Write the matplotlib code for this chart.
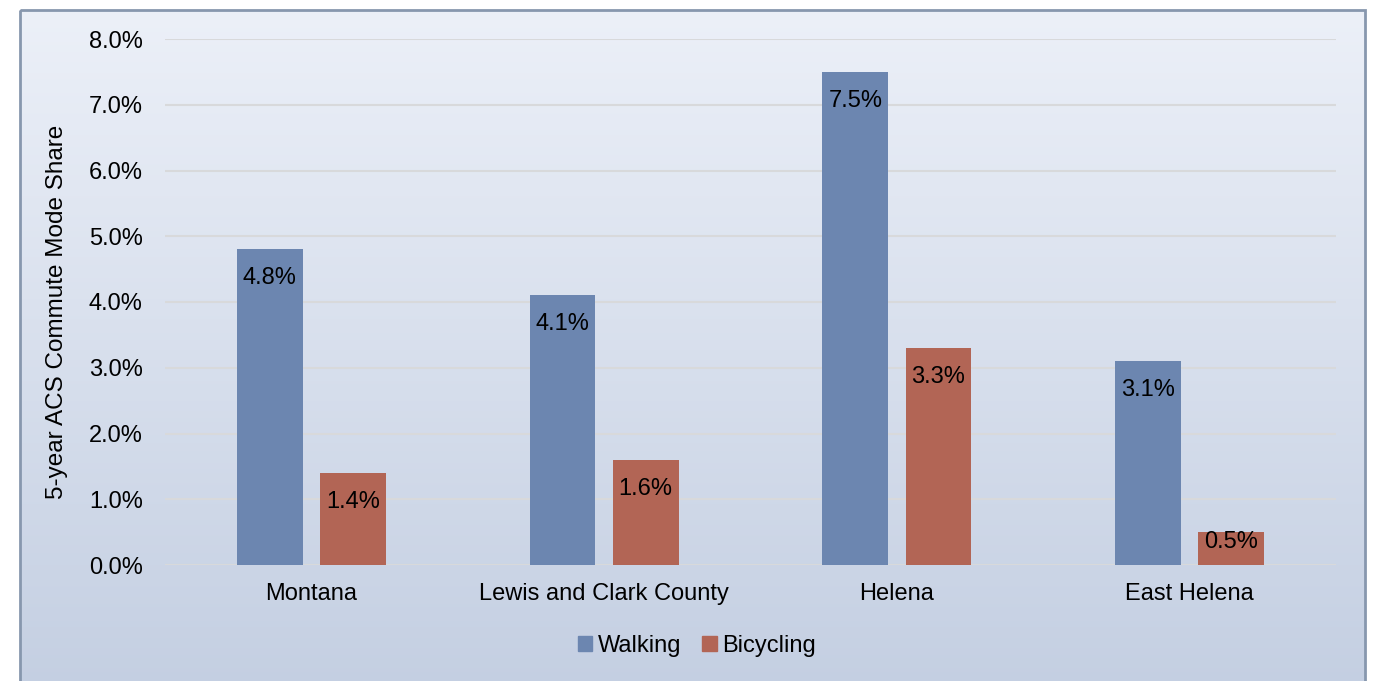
#!/usr/bin/env python3
import numpy as np
import matplotlib.pyplot as plt
from matplotlib.patches import Rectangle, Patch
from matplotlib.ticker import PercentFormatter

plt.rcParams['font.family'] = ['Liberation Sans', 'DejaVu Sans']

# Chart data
places = ["Montana", "Lewis and Clark County", "Helena", "East Helena"]
walking = [4.8, 4.1, 7.5, 3.1]
bicycling = [1.4, 1.6, 3.3, 0.5]
series_names = ["Walking", "Bicycling"]
y_ticks = [0, 1, 2, 3, 4, 5, 6, 7, 8]

walk_color = '#6C86B0'
bike_color = '#B26555'
fs = 17

fig = plt.figure(figsize=(13.76, 6.81), dpi=100)

# Background gradient panel with frame
bg = fig.add_axes([0, 0, 1, 1], zorder=0)
bg.set_xlim(0, 1376)
bg.set_ylim(681, 0)
bg.axis('off')
grad = np.linspace(0, 1, 256).reshape(-1, 1)
top = np.array([0xEC, 0xF0, 0xF8]) / 255
bot = np.array([0xC4, 0xCF, 0xE2]) / 255
img = top + (bot - top) * grad[..., None]
bg.imshow(img, extent=[20, 1365, 690, 10], aspect='auto', zorder=0)
bg.add_patch(Rectangle((20, 10), 1345, 700, fill=False, edgecolor='#8797AE', lw=2, zorder=1))

# Main plot
ax = fig.add_axes([165 / 1376, 116 / 681, 1171 / 1376, 526 / 681], zorder=2)
ax.patch.set_alpha(0)
x = np.arange(len(places))
w = 0.225
off = 0.142
b1 = ax.bar(x - off, walking, w, color=walk_color, zorder=3)
b2 = ax.bar(x + off, bicycling, w, color=bike_color, zorder=3)

# value labels inside the bar ends (short bars get the label pushed up)
for bars, vals in ((b1, walking), (b2, bicycling)):
    for b, v in zip(bars, vals):
        dy = -13 if v > 1 else 1
        ax.annotate(f"{v:.1f}%", (b.get_x() + b.get_width() / 2, v),
                    xytext=(0, dy), textcoords='offset points',
                    ha='center', va='top', fontsize=fs, color='black', zorder=4)

ax.set_xlim(-0.5, len(places) - 0.5)
ax.set_ylim(0, 8)
ax.set_yticks(y_ticks)
ax.yaxis.set_major_formatter(PercentFormatter(decimals=1))
ax.set_xticks(x)
ax.set_xticklabels(places)
ax.tick_params(axis='both', length=0, labelsize=fs)
ax.tick_params(axis='y', pad=16)
ax.tick_params(axis='x', pad=13)
ax.grid(axis='y', color='#D8D9DB', lw=1.5, zorder=1)
for s in ax.spines.values():
    s.set_visible(False)
ax.axhline(0, color='#D8D9DB', lw=1.5, zorder=2)
ax.set_ylabel("5-year ACS Commute Mode Share", fontsize=17.5, labelpad=15)
ax.yaxis.label.set_y(0.5 - 10 / 526)

handles = [Patch(color=walk_color), Patch(color=bike_color)]
fig.legend(handles, series_names, loc='center', bbox_to_anchor=(697 / 1376, 1 - 646 / 681),
           ncol=2, frameon=False, fontsize=fs, handlelength=0.6, handleheight=0.6,
           handletextpad=0.25, columnspacing=0.9)

fig.savefig("out.png", dpi=100)
